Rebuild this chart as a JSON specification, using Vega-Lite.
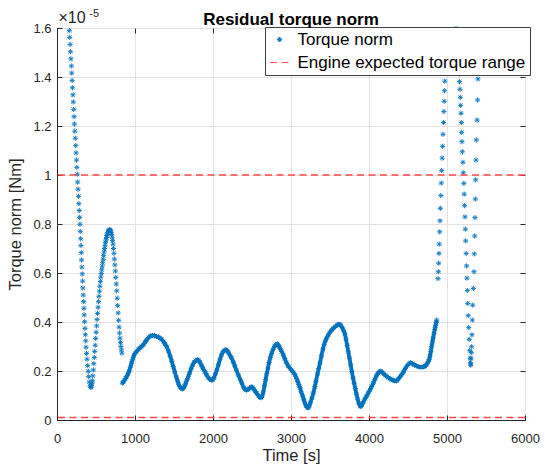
{
  "$schema": "https://vega.github.io/schema/vega-lite/v6.json",
  "width": 468,
  "height": 392,
  "autosize": {"type": "none"},
  "padding": {"left": 57, "top": 28, "right": 20, "bottom": 51},
  "background": "white",
  "config": {
    "font": "Liberation Sans",
    "view": {"stroke": "#262626", "strokeWidth": 1}
  },
  "title": {"text": "Residual torque norm", "fontSize": 17, "fontWeight": "bold", "font": "Liberation Sans", "color": "#000000", "anchor": "middle", "baseline": "alphabetic", "offset": 5, "dy": 39.5},
  "datasets": {
    "torque": [
      {"t":158,"v":1.589,"seg":"A"},{"t":163,"v":1.562,"seg":"A"},{"t":168,"v":1.533,"seg":"A"},{"t":173,"v":1.503,"seg":"A"},{"t":178,"v":1.474,"seg":"A"},{"t":184,"v":1.445,"seg":"A"},{"t":189,"v":1.416,"seg":"A"},{"t":194,"v":1.386,"seg":"A"},{"t":199,"v":1.356,"seg":"A"},{"t":204,"v":1.327,"seg":"A"},{"t":209,"v":1.298,"seg":"A"},{"t":214,"v":1.268,"seg":"A"},{"t":219,"v":1.238,"seg":"A"},{"t":224,"v":1.208,"seg":"A"},{"t":229,"v":1.179,"seg":"A"},{"t":235,"v":1.150,"seg":"A"},{"t":240,"v":1.120,"seg":"A"},{"t":245,"v":1.090,"seg":"A"},{"t":250,"v":1.061,"seg":"A"},{"t":255,"v":1.031,"seg":"A"},{"t":260,"v":1.003,"seg":"A"},{"t":265,"v":0.971,"seg":"A"},{"t":270,"v":0.942,"seg":"A"},{"t":275,"v":0.913,"seg":"A"},{"t":280,"v":0.883,"seg":"A"},{"t":285,"v":0.855,"seg":"A"},{"t":290,"v":0.827,"seg":"A"},{"t":294,"v":0.799,"seg":"A"},{"t":298,"v":0.770,"seg":"A"},{"t":303,"v":0.740,"seg":"A"},{"t":307,"v":0.712,"seg":"A"},{"t":311,"v":0.683,"seg":"A"},{"t":315,"v":0.653,"seg":"A"},{"t":319,"v":0.624,"seg":"A"},{"t":324,"v":0.596,"seg":"A"},{"t":328,"v":0.567,"seg":"A"},{"t":332,"v":0.539,"seg":"A"},{"t":336,"v":0.510,"seg":"A"},{"t":341,"v":0.483,"seg":"A"},{"t":345,"v":0.456,"seg":"A"},{"t":349,"v":0.429,"seg":"A"},{"t":354,"v":0.401,"seg":"A"},{"t":359,"v":0.374,"seg":"A"},{"t":363,"v":0.348,"seg":"A"},{"t":368,"v":0.323,"seg":"A"},{"t":372,"v":0.297,"seg":"A"},{"t":379,"v":0.272,"seg":"A"},{"t":385,"v":0.248,"seg":"A"},{"t":393,"v":0.222,"seg":"A"},{"t":401,"v":0.199,"seg":"A"},{"t":406,"v":0.177,"seg":"A"},{"t":414,"v":0.155,"seg":"A"},{"t":424,"v":0.140,"seg":"A"},{"t":433,"v":0.133,"seg":"A"},{"t":438,"v":0.135,"seg":"A"},
      {"t":442,"v":0.142,"seg":"A"},{"t":448,"v":0.150,"seg":"A"},{"t":454,"v":0.160,"seg":"A"},{"t":460,"v":0.180,"seg":"A"},{"t":466,"v":0.204,"seg":"A"},{"t":472,"v":0.230,"seg":"A"},{"t":478,"v":0.255,"seg":"A"},{"t":484,"v":0.280,"seg":"A"},{"t":490,"v":0.305,"seg":"A"},{"t":496,"v":0.333,"seg":"A"},{"t":502,"v":0.358,"seg":"A"},{"t":508,"v":0.384,"seg":"A"},{"t":514,"v":0.410,"seg":"A"},{"t":520,"v":0.435,"seg":"A"},{"t":526,"v":0.460,"seg":"A"},{"t":532,"v":0.483,"seg":"A"},{"t":538,"v":0.505,"seg":"A"},{"t":544,"v":0.526,"seg":"A"},{"t":550,"v":0.546,"seg":"A"},{"t":556,"v":0.565,"seg":"A"},{"t":562,"v":0.583,"seg":"A"},{"t":568,"v":0.598,"seg":"A"},{"t":574,"v":0.613,"seg":"A"},{"t":580,"v":0.628,"seg":"A"},{"t":586,"v":0.642,"seg":"A"},{"t":592,"v":0.656,"seg":"A"},{"t":598,"v":0.671,"seg":"A"},{"t":604,"v":0.686,"seg":"A"},{"t":610,"v":0.700,"seg":"A"},{"t":616,"v":0.713,"seg":"A"},{"t":622,"v":0.725,"seg":"A"},{"t":628,"v":0.735,"seg":"A"},{"t":634,"v":0.745,"seg":"A"},{"t":640,"v":0.753,"seg":"A"},{"t":646,"v":0.759,"seg":"A"},{"t":652,"v":0.765,"seg":"A"},{"t":658,"v":0.770,"seg":"A"},{"t":664,"v":0.773,"seg":"A"},{"t":670,"v":0.776,"seg":"A"},{"t":676,"v":0.777,"seg":"A"},{"t":682,"v":0.776,"seg":"A"},{"t":688,"v":0.772,"seg":"A"},
      {"t":694,"v":0.766,"seg":"A"},{"t":700,"v":0.757,"seg":"A"},{"t":706,"v":0.746,"seg":"A"},{"t":712,"v":0.733,"seg":"A"},{"t":718,"v":0.718,"seg":"A"},{"t":724,"v":0.700,"seg":"A"},{"t":730,"v":0.680,"seg":"A"},{"t":736,"v":0.657,"seg":"A"},{"t":742,"v":0.633,"seg":"A"},{"t":748,"v":0.608,"seg":"A"},{"t":754,"v":0.582,"seg":"A"},{"t":760,"v":0.555,"seg":"A"},{"t":766,"v":0.527,"seg":"A"},{"t":772,"v":0.497,"seg":"A"},{"t":778,"v":0.467,"seg":"A"},{"t":784,"v":0.437,"seg":"A"},{"t":790,"v":0.407,"seg":"A"},{"t":796,"v":0.379,"seg":"A"},{"t":802,"v":0.355,"seg":"A"},{"t":808,"v":0.334,"seg":"A"},{"t":814,"v":0.316,"seg":"A"},{"t":820,"v":0.300,"seg":"A"},{"t":826,"v":0.286,"seg":"A"},{"t":832,"v":0.273,"seg":"A"},
      {"t":838,"v":0.150,"seg":"B"},{"t":850,"v":0.155,"seg":"B"},{"t":865,"v":0.162,"seg":"B"},{"t":880,"v":0.170,"seg":"B"},{"t":893,"v":0.177,"seg":"B"},{"t":910,"v":0.188,"seg":"B"},{"t":925,"v":0.200,"seg":"B"},{"t":940,"v":0.215,"seg":"B"},{"t":955,"v":0.232,"seg":"B"},{"t":970,"v":0.248,"seg":"B"},{"t":985,"v":0.262,"seg":"B"},{"t":1000,"v":0.272,"seg":"B"},{"t":1021,"v":0.280,"seg":"B"},{"t":1043,"v":0.288,"seg":"B"},{"t":1065,"v":0.295,"seg":"B"},{"t":1085,"v":0.300,"seg":"B"},{"t":1107,"v":0.307,"seg":"B"},{"t":1130,"v":0.318,"seg":"B"},{"t":1150,"v":0.327,"seg":"B"},{"t":1175,"v":0.337,"seg":"B"},{"t":1201,"v":0.343,"seg":"B"},{"t":1225,"v":0.345,"seg":"B"},{"t":1250,"v":0.344,"seg":"B"},{"t":1275,"v":0.341,"seg":"B"},{"t":1300,"v":0.338,"seg":"B"},{"t":1320,"v":0.334,"seg":"B"},{"t":1342,"v":0.329,"seg":"B"},{"t":1365,"v":0.320,"seg":"B"},{"t":1385,"v":0.310,"seg":"B"},{"t":1406,"v":0.299,"seg":"B"},{"t":1428,"v":0.282,"seg":"B"},{"t":1450,"v":0.262,"seg":"B"},{"t":1470,"v":0.240,"seg":"B"},{"t":1491,"v":0.218,"seg":"B"},{"t":1510,"v":0.196,"seg":"B"},{"t":1530,"v":0.175,"seg":"B"},{"t":1545,"v":0.160,"seg":"B"},{"t":1560,"v":0.146,"seg":"B"},{"t":1575,"v":0.136,"seg":"B"},{"t":1590,"v":0.130,"seg":"B"},{"t":1607,"v":0.127,"seg":"B"},{"t":1620,"v":0.130,"seg":"B"},{"t":1635,"v":0.138,"seg":"B"},{"t":1650,"v":0.150,"seg":"B"},{"t":1667,"v":0.164,"seg":"B"},{"t":1684,"v":0.177,"seg":"B"},{"t":1700,"v":0.192,"seg":"B"},{"t":1720,"v":0.210,"seg":"B"},{"t":1740,"v":0.225,"seg":"B"},{"t":1760,"v":0.236,"seg":"B"},{"t":1780,"v":0.243,"seg":"B"},{"t":1800,"v":0.246,"seg":"B"},{"t":1815,"v":0.244,"seg":"B"},{"t":1830,"v":0.237,"seg":"B"},{"t":1850,"v":0.225,"seg":"B"},{"t":1870,"v":0.212,"seg":"B"},{"t":1897,"v":0.197,"seg":"B"},{"t":1920,"v":0.183,"seg":"B"},{"t":1940,"v":0.173,"seg":"B"},{"t":1960,"v":0.166,"seg":"B"},{"t":1980,"v":0.163,"seg":"B"},{"t":1996,"v":0.164,"seg":"B"},{"t":2012,"v":0.172,"seg":"B"},{"t":2030,"v":0.187,"seg":"B"},{"t":2050,"v":0.205,"seg":"B"},{"t":2068,"v":0.224,"seg":"B"},{"t":2090,"v":0.248,"seg":"B"},{"t":2110,"v":0.266,"seg":"B"},{"t":2130,"v":0.279,"seg":"B"},{"t":2150,"v":0.285,"seg":"B"},{"t":2167,"v":0.287,"seg":"B"},{"t":2185,"v":0.282,"seg":"B"},{"t":2200,"v":0.274,"seg":"B"},{"t":2220,"v":0.263,"seg":"B"},{"t":2239,"v":0.252,"seg":"B"},{"t":2260,"v":0.237,"seg":"B"},{"t":2280,"v":0.220,"seg":"B"},{"t":2300,"v":0.203,"seg":"B"},{"t":2325,"v":0.184,"seg":"B"},{"t":2350,"v":0.165,"seg":"B"},{"t":2370,"v":0.150,"seg":"B"},{"t":2390,"v":0.135,"seg":"B"},{"t":2410,"v":0.125,"seg":"B"},{"t":2430,"v":0.122,"seg":"B"},{"t":2450,"v":0.124,"seg":"B"},{"t":2470,"v":0.130,"seg":"B"},{"t":2490,"v":0.135,"seg":"B"},{"t":2505,"v":0.134,"seg":"B"},{"t":2520,"v":0.127,"seg":"B"},{"t":2540,"v":0.118,"seg":"B"},{"t":2560,"v":0.109,"seg":"B"},{"t":2580,"v":0.100,"seg":"B"},{"t":2600,"v":0.093,"seg":"B"},{"t":2615,"v":0.091,"seg":"B"},{"t":2630,"v":0.097,"seg":"B"},{"t":2645,"v":0.115,"seg":"B"},{"t":2660,"v":0.140,"seg":"B"},{"t":2675,"v":0.165,"seg":"B"},{"t":2688,"v":0.188,"seg":"B"},{"t":2705,"v":0.212,"seg":"B"},{"t":2720,"v":0.235,"seg":"B"},{"t":2735,"v":0.255,"seg":"B"},{"t":2752,"v":0.272,"seg":"B"},{"t":2770,"v":0.288,"seg":"B"},{"t":2790,"v":0.301,"seg":"B"},{"t":2808,"v":0.308,"seg":"B"},{"t":2825,"v":0.311,"seg":"B"},{"t":2843,"v":0.303,"seg":"B"},{"t":2860,"v":0.292,"seg":"B"},{"t":2880,"v":0.280,"seg":"B"},{"t":2902,"v":0.265,"seg":"B"},{"t":2920,"v":0.250,"seg":"B"},{"t":2940,"v":0.235,"seg":"B"},{"t":2966,"v":0.220,"seg":"B"},{"t":2990,"v":0.210,"seg":"B"},{"t":3010,"v":0.202,"seg":"B"},{"t":3030,"v":0.194,"seg":"B"},{"t":3051,"v":0.184,"seg":"B"},{"t":3070,"v":0.170,"seg":"B"},{"t":3085,"v":0.158,"seg":"B"},{"t":3100,"v":0.145,"seg":"B"},{"t":3115,"v":0.132,"seg":"B"},{"t":3130,"v":0.115,"seg":"B"},{"t":3150,"v":0.098,"seg":"B"},{"t":3165,"v":0.082,"seg":"B"},{"t":3180,"v":0.068,"seg":"B"},{"t":3195,"v":0.057,"seg":"B"},{"t":3210,"v":0.051,"seg":"B"},{"t":3222,"v":0.050,"seg":"B"},{"t":3235,"v":0.058,"seg":"B"},{"t":3250,"v":0.072,"seg":"B"},{"t":3268,"v":0.090,"seg":"B"},{"t":3286,"v":0.109,"seg":"B"},{"t":3305,"v":0.136,"seg":"B"},{"t":3320,"v":0.158,"seg":"B"},{"t":3340,"v":0.188,"seg":"B"},{"t":3355,"v":0.210,"seg":"B"},{"t":3372,"v":0.233,"seg":"B"},{"t":3390,"v":0.262,"seg":"B"},{"t":3410,"v":0.290,"seg":"B"},{"t":3425,"v":0.308,"seg":"B"},{"t":3440,"v":0.322,"seg":"B"},{"t":3460,"v":0.336,"seg":"B"},{"t":3480,"v":0.348,"seg":"B"},{"t":3500,"v":0.358,"seg":"B"},{"t":3521,"v":0.367,"seg":"B"},{"t":3545,"v":0.375,"seg":"B"},{"t":3570,"v":0.382,"seg":"B"},{"t":3595,"v":0.388,"seg":"B"},{"t":3615,"v":0.391,"seg":"B"},{"t":3635,"v":0.388,"seg":"B"},{"t":3655,"v":0.378,"seg":"B"},{"t":3675,"v":0.364,"seg":"B"},{"t":3692,"v":0.350,"seg":"B"},{"t":3705,"v":0.330,"seg":"B"},{"t":3720,"v":0.305,"seg":"B"},{"t":3735,"v":0.278,"seg":"B"},{"t":3750,"v":0.252,"seg":"B"},{"t":3765,"v":0.225,"seg":"B"},{"t":3780,"v":0.198,"seg":"B"},{"t":3795,"v":0.172,"seg":"B"},{"t":3810,"v":0.150,"seg":"B"},{"t":3825,"v":0.128,"seg":"B"},{"t":3840,"v":0.105,"seg":"B"},{"t":3855,"v":0.085,"seg":"B"},{"t":3870,"v":0.068,"seg":"B"},{"t":3885,"v":0.058,"seg":"B"},{"t":3895,"v":0.055,"seg":"B"},{"t":3910,"v":0.062,"seg":"B"},{"t":3930,"v":0.075,"seg":"B"},{"t":3950,"v":0.087,"seg":"B"},{"t":3970,"v":0.098,"seg":"B"},{"t":3990,"v":0.110,"seg":"B"},{"t":4013,"v":0.123,"seg":"B"},{"t":4035,"v":0.137,"seg":"B"},{"t":4055,"v":0.150,"seg":"B"},{"t":4075,"v":0.165,"seg":"B"},{"t":4095,"v":0.180,"seg":"B"},{"t":4115,"v":0.191,"seg":"B"},{"t":4135,"v":0.197,"seg":"B"},{"t":4150,"v":0.199,"seg":"B"},{"t":4170,"v":0.195,"seg":"B"},{"t":4190,"v":0.188,"seg":"B"},{"t":4210,"v":0.182,"seg":"B"},{"t":4230,"v":0.177,"seg":"B"},{"t":4250,"v":0.173,"seg":"B"},{"t":4270,"v":0.169,"seg":"B"},{"t":4290,"v":0.165,"seg":"B"},{"t":4310,"v":0.162,"seg":"B"},{"t":4330,"v":0.160,"seg":"B"},{"t":4355,"v":0.160,"seg":"B"},{"t":4375,"v":0.167,"seg":"B"},{"t":4400,"v":0.177,"seg":"B"},{"t":4420,"v":0.186,"seg":"B"},{"t":4440,"v":0.195,"seg":"B"},{"t":4465,"v":0.210,"seg":"B"},{"t":4490,"v":0.222,"seg":"B"},{"t":4515,"v":0.231,"seg":"B"},{"t":4534,"v":0.234,"seg":"B"},{"t":4555,"v":0.230,"seg":"B"},{"t":4580,"v":0.225,"seg":"B"},{"t":4605,"v":0.221,"seg":"B"},{"t":4632,"v":0.218,"seg":"B"},{"t":4655,"v":0.216,"seg":"B"},{"t":4680,"v":0.216,"seg":"B"},{"t":4700,"v":0.217,"seg":"B"},{"t":4718,"v":0.220,"seg":"B"},{"t":4735,"v":0.225,"seg":"B"},{"t":4750,"v":0.232,"seg":"B"},{"t":4763,"v":0.240,"seg":"B"},{"t":4773,"v":0.248,"seg":"B"},{"t":4783,"v":0.262,"seg":"B"},{"t":4793,"v":0.280,"seg":"B"},{"t":4803,"v":0.300,"seg":"B"},{"t":4813,"v":0.318,"seg":"B"},{"t":4823,"v":0.336,"seg":"B"},{"t":4833,"v":0.354,"seg":"B"},{"t":4843,"v":0.370,"seg":"B"},{"t":4853,"v":0.385,"seg":"B"},{"t":4862,"v":0.398,"seg":"B"},{"t":4868,"v":0.408,"seg":"B"},
      {"t":4885,"v":0.577,"seg":"C"},{"t":4889,"v":0.605,"seg":"C"},{"t":4893,"v":0.640,"seg":"C"},{"t":4897,"v":0.680,"seg":"C"},{"t":4901,"v":0.718,"seg":"C"},{"t":4906,"v":0.768,"seg":"C"},{"t":4910,"v":0.813,"seg":"C"},{"t":4915,"v":0.864,"seg":"C"},{"t":4921,"v":0.916,"seg":"C"},{"t":4927,"v":0.967,"seg":"C"},{"t":4932,"v":1.018,"seg":"C"},{"t":4938,"v":1.069,"seg":"C"},{"t":4944,"v":1.117,"seg":"C"},{"t":4949,"v":1.166,"seg":"C"},{"t":4955,"v":1.214,"seg":"C"},{"t":4960,"v":1.259,"seg":"C"},{"t":4964,"v":1.301,"seg":"C"},{"t":4968,"v":1.344,"seg":"C"},{"t":4972,"v":1.383,"seg":"C"},{"t":4976,"v":1.417,"seg":"C"},{"t":4980,"v":1.455,"seg":"C"},{"t":4984,"v":1.495,"seg":"C"},{"t":4988,"v":1.535,"seg":"C"},{"t":4992,"v":1.575,"seg":"C"},
      {"t":5115,"v":1.598,"seg":"C"},{"t":5125,"v":1.560,"seg":"C"},{"t":5135,"v":1.520,"seg":"C"},{"t":5143,"v":1.480,"seg":"C"},{"t":5150,"v":1.445,"seg":"C"},{"t":5156,"v":1.412,"seg":"C"},{"t":5161,"v":1.381,"seg":"C"},{"t":5166,"v":1.350,"seg":"C"},{"t":5171,"v":1.317,"seg":"C"},{"t":5175,"v":1.284,"seg":"C"},{"t":5179,"v":1.252,"seg":"C"},{"t":5184,"v":1.214,"seg":"C"},{"t":5188,"v":1.174,"seg":"C"},{"t":5192,"v":1.136,"seg":"C"},{"t":5197,"v":1.095,"seg":"C"},{"t":5204,"v":1.052,"seg":"C"},{"t":5209,"v":1.009,"seg":"C"},{"t":5216,"v":0.966,"seg":"C"},{"t":5221,"v":0.922,"seg":"C"},{"t":5225,"v":0.875,"seg":"C"},{"t":5231,"v":0.829,"seg":"C"},{"t":5235,"v":0.779,"seg":"C"},{"t":5239,"v":0.731,"seg":"C"},{"t":5246,"v":0.680,"seg":"C"},{"t":5251,"v":0.629,"seg":"C"},{"t":5256,"v":0.579,"seg":"C"},{"t":5261,"v":0.529,"seg":"C"},{"t":5266,"v":0.476,"seg":"C"},{"t":5272,"v":0.426,"seg":"C"},{"t":5279,"v":0.377,"seg":"C"},{"t":5285,"v":0.329,"seg":"C"},{"t":5292,"v":0.283,"seg":"C"},{"t":5297,"v":0.252,"seg":"C"},{"t":5300,"v":0.235,"seg":"C"},{"t":5303,"v":0.224,"seg":"C"},
      {"t":5305,"v":0.228,"seg":"C"},{"t":5308,"v":0.252,"seg":"C"},{"t":5312,"v":0.275,"seg":"C"},{"t":5316,"v":0.299,"seg":"C"},{"t":5321,"v":0.348,"seg":"C"},{"t":5325,"v":0.408,"seg":"C"},{"t":5329,"v":0.469,"seg":"C"},{"t":5338,"v":0.537,"seg":"C"},{"t":5346,"v":0.605,"seg":"C"},{"t":5350,"v":0.678,"seg":"C"},{"t":5355,"v":0.751,"seg":"C"},{"t":5359,"v":0.826,"seg":"C"},{"t":5363,"v":0.902,"seg":"C"},{"t":5367,"v":0.980,"seg":"C"},{"t":5372,"v":1.061,"seg":"C"},{"t":5376,"v":1.143,"seg":"C"},{"t":5386,"v":1.224,"seg":"C"},{"t":5392,"v":1.306,"seg":"C"},{"t":5397,"v":1.392,"seg":"C"},{"t":5401,"v":1.480,"seg":"C"},{"t":5405,"v":1.570,"seg":"C"}
    ],
    "limits": [{"v": 1.0}, {"v": 0.01}],
    "exponent": [{"base": "×10", "power": "-5"}]
  },
  "layer": [
    {
      "data": {"name": "torque"},
      "transform": [{"filter": "datum.seg == 'B'"}],
      "mark": {"type": "line", "color": "#0072BD", "strokeWidth": 3.8, "interpolate": "monotone"},
      "encoding": {
        "x": {"field": "t", "type": "quantitative", "scale": {"domain": [0, 6000], "nice": false, "zero": false},
          "axis": {"orient": "top", "labels": false, "domain": false, "grid": false, "title": null, "tickSize": -5, "tickColor": "#262626", "values": [0,1000,2000,3000,4000,5000,6000]}},
        "y": {"field": "v", "type": "quantitative", "scale": {"domain": [0, 1.6], "nice": false, "zero": false},
          "axis": {"orient": "right", "labels": false, "domain": false, "grid": false, "title": null, "tickSize": -5, "tickColor": "#262626", "values": [0,0.2,0.4,0.6,0.8,1,1.2,1.4,1.6]}}
      }
    },
    {
      "data": {"name": "torque"},
      "mark": {"type": "point", "filled": false, "strokeWidth": 1, "opacity": 0.9},
      "encoding": {
        "x": {"field": "t", "type": "quantitative",
          "axis": {"orient": "bottom", "title": "Time [s]", "values": [0,1000,2000,3000,4000,5000,6000], "format": "d", "grid": true, "gridColor": "#E3E3E3", "gridWidth": 1, "tickSize": -5, "tickColor": "#262626", "domainColor": "#262626", "labelFontSize": 13, "labelColor": "#262626", "labelFont": "Liberation Sans", "labelPadding": 17.5, "labelFlush": false, "labelOverlap": false, "titleFontSize": 16.5, "titleFont": "Liberation Sans", "titleFontWeight": "normal", "titleColor": "#262626", "titlePadding": 1.5}},
        "y": {"field": "v", "type": "quantitative",
          "axis": {"orient": "left", "title": "Torque norm [Nm]", "values": [0,0.2,0.4,0.6,0.8,1,1.2,1.4,1.6], "format": "~g", "grid": true, "gridColor": "#E3E3E3", "gridWidth": 1, "tickSize": -5, "tickColor": "#262626", "domainColor": "#262626", "labelFontSize": 13, "labelColor": "#262626", "labelFont": "Liberation Sans", "labelPadding": 11, "labelFlush": false, "labelOverlap": false, "titleFontSize": 16.5, "titleFont": "Liberation Sans", "titleFontWeight": "normal", "titleColor": "#262626", "titlePadding": 9}},
        "color": {"datum": "Torque norm", "type": "nominal",
          "scale": {"domain": ["Torque norm", "Engine expected torque range"], "range": ["#0072BD", "#FF4545"]},
          "legend": {"orient": "none", "legendX": 208, "legendY": -1, "title": null, "fillColor": "white", "strokeColor": "#404040", "padding": 4, "labelOffset": 7.5, "labelFontSize": 17, "labelFont": "Liberation Sans", "labelColor": "#000000", "rowPadding": 4, "symbolStrokeWidth": 1.2, "labelLimit": 400}},
        "shape": {"datum": "Torque norm", "type": "nominal",
          "scale": {"domain": ["Torque norm", "Engine expected torque range"], "range": ["M-1,0L1,0M0,-1L0,1M-0.72,-0.72L0.72,0.72M-0.72,0.72L0.72,-0.72", "stroke"]}},
        "size": {"datum": "Torque norm", "type": "ordinal",
          "scale": {"domain": ["Torque norm", "Engine expected torque range"], "range": [26, 361]}}
      }
    },
    {
      "data": {"name": "limits"},
      "mark": {"type": "rule", "strokeWidth": 1.5},
      "encoding": {
        "y": {"field": "v", "type": "quantitative", "axis": null},
        "color": {"datum": "Engine expected torque range", "type": "nominal"},
        "strokeDash": {"datum": "Engine expected torque range", "type": "nominal",
          "scale": {"domain": ["Torque norm", "Engine expected torque range"], "range": [[1, 0], [7, 4.5]]}}
      }
    },
    {
      "data": {"name": "exponent"},
      "mark": {"type": "text", "align": "left", "baseline": "alphabetic", "dx": 1.5, "dy": -4.7, "fontSize": 16, "font": "Liberation Sans", "color": "#262626"},
      "encoding": {
        "x": {"datum": 0, "type": "quantitative", "axis": null},
        "y": {"datum": 1.6, "type": "quantitative", "axis": null},
        "text": {"field": "base"}
      }
    },
    {
      "data": {"name": "exponent"},
      "mark": {"type": "text", "align": "left", "baseline": "alphabetic", "dx": 32.3, "dy": -11.3, "fontSize": 11, "font": "Liberation Sans", "color": "#262626"},
      "encoding": {
        "x": {"datum": 0, "type": "quantitative", "axis": null},
        "y": {"datum": 1.6, "type": "quantitative", "axis": null},
        "text": {"field": "power"}
      }
    }
  ]
}
